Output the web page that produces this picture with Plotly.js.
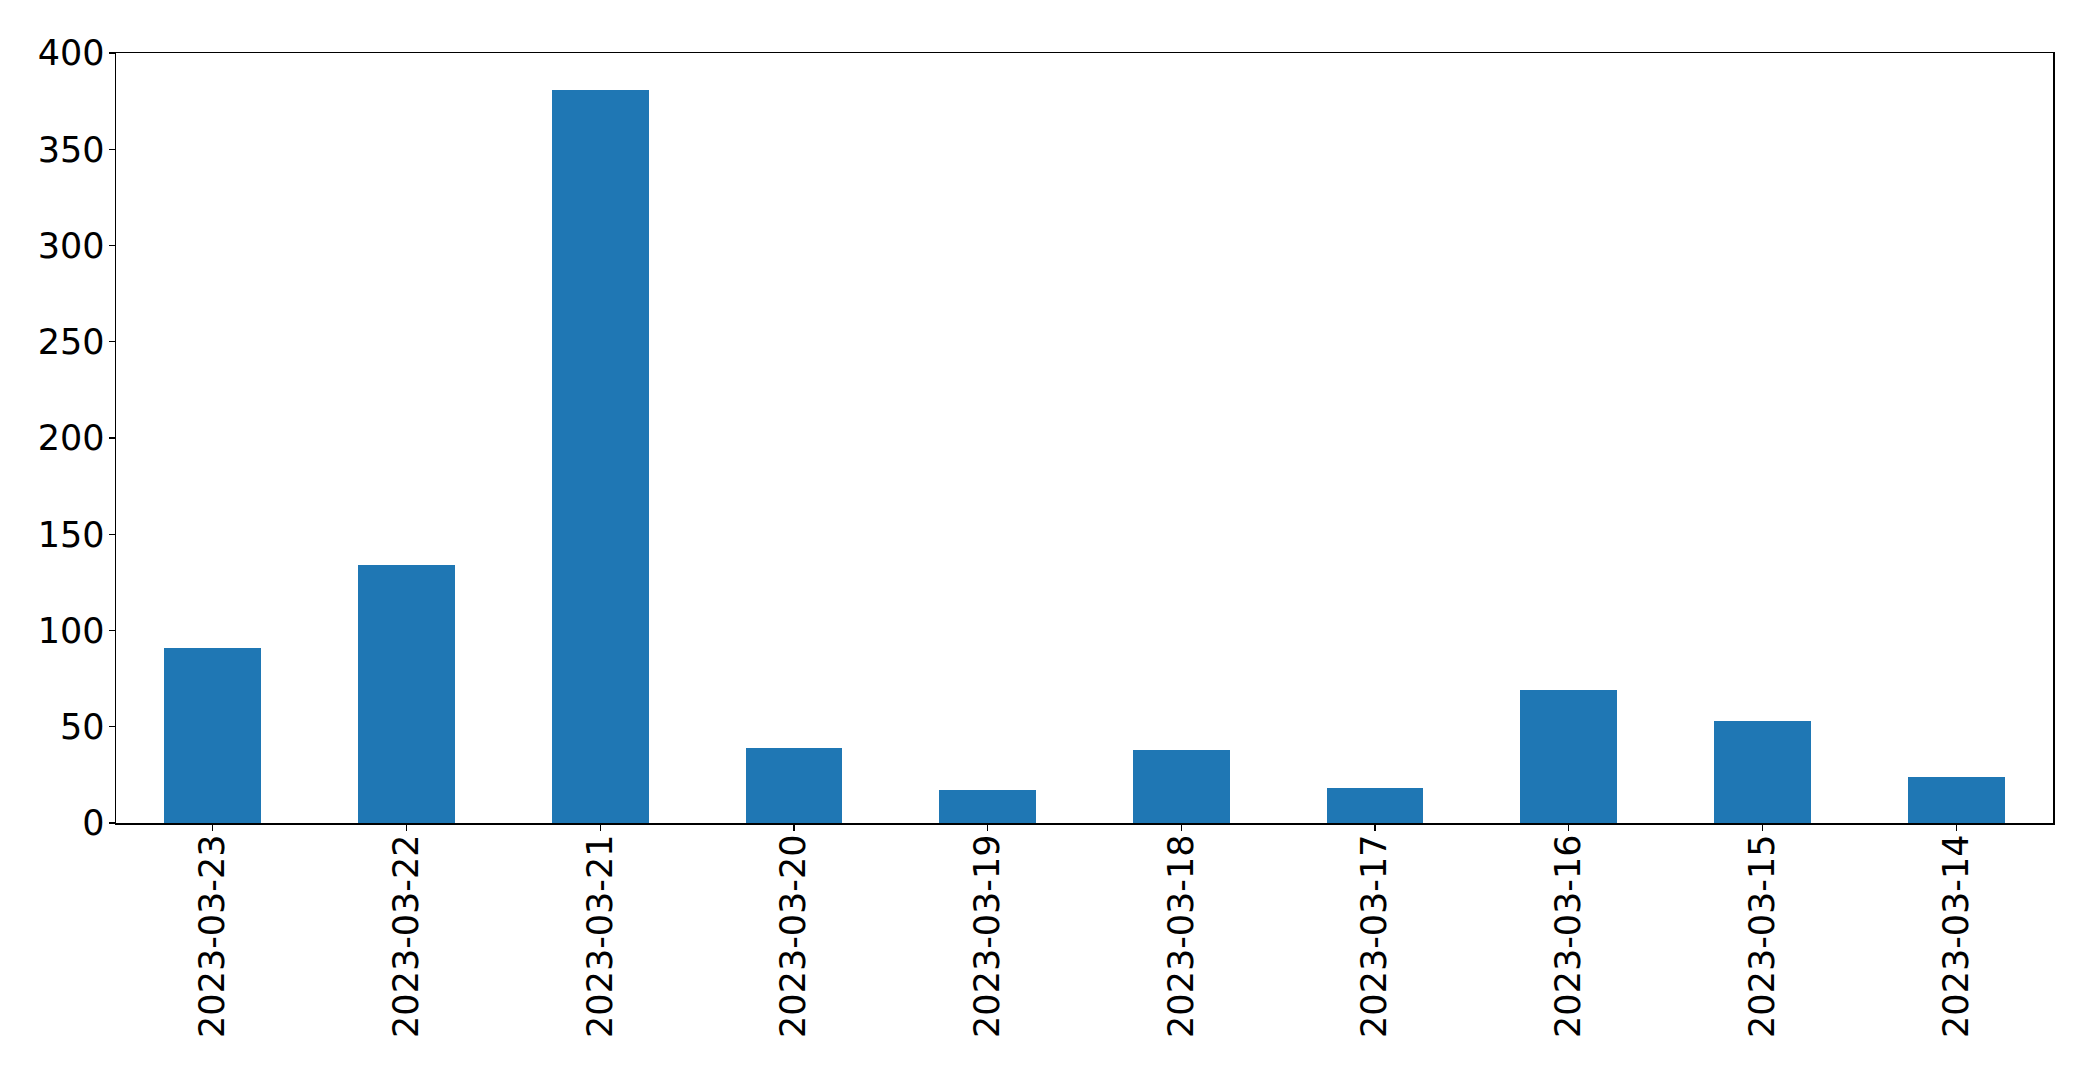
<!DOCTYPE html>
<html>
<head>
<meta charset="utf-8">
<script src="https://cdn.plot.ly/plotly-3.0.1.min.js"></script>
<style>html,body{margin:0;padding:0;background:#fff;}#chart{width:2093px;height:1075px;}</style>
</head>
<body>
<div id="chart"></div>
<script>
const dates = ["2023-03-23","2023-03-22","2023-03-21","2023-03-20","2023-03-19","2023-03-18","2023-03-17","2023-03-16","2023-03-15","2023-03-14"];
const counts = [91, 134, 381, 39, 17, 38, 18, 69, 53, 24];
const yTicks = [0, 50, 100, 150, 200, 250, 300, 350, 400];

const font = {family: "DejaVu Sans", size: 35, color: "#000"};
const trace = {
  type: "bar",
  x: dates,
  y: counts,
  width: 0.5,
  marker: {color: "#1f77b4", line: {width: 0}},
  hoverinfo: "x+y"
};
const layout = {
  width: 2093, height: 1075,
  margin: {l: 116, r: 40, t: 53, b: 252, pad: 0},
  paper_bgcolor: "#fff", plot_bgcolor: "#fff",
  showlegend: false,
  bargap: 0,
  xaxis: {
    type: "category",
    range: [-0.5, 9.5],
    tickangle: -90,
    ticks: "outside", ticklen: 6, tickwidth: 1.2, tickcolor: "#000",
    tickfont: font,
    showline: true, linecolor: "#000", linewidth: 1.5, mirror: true,
    showgrid: false, zeroline: false,
    ticklabelstandoff: -10
  },
  yaxis: {
    range: [0, 400],
    tickvals: yTicks,
    ticktext: yTicks.map(String),
    ticks: "outside", ticklen: 6, tickwidth: 1.2, tickcolor: "#000",
    tickfont: font,
    showline: true, linecolor: "#000", linewidth: 1.5, mirror: true,
    showgrid: false, zeroline: false,
    ticklabelstandoff: -3
  }
};
Plotly.newPlot("chart", [trace], layout, {displayModeBar: false, staticPlot: true});
</script>
</body>
</html>
